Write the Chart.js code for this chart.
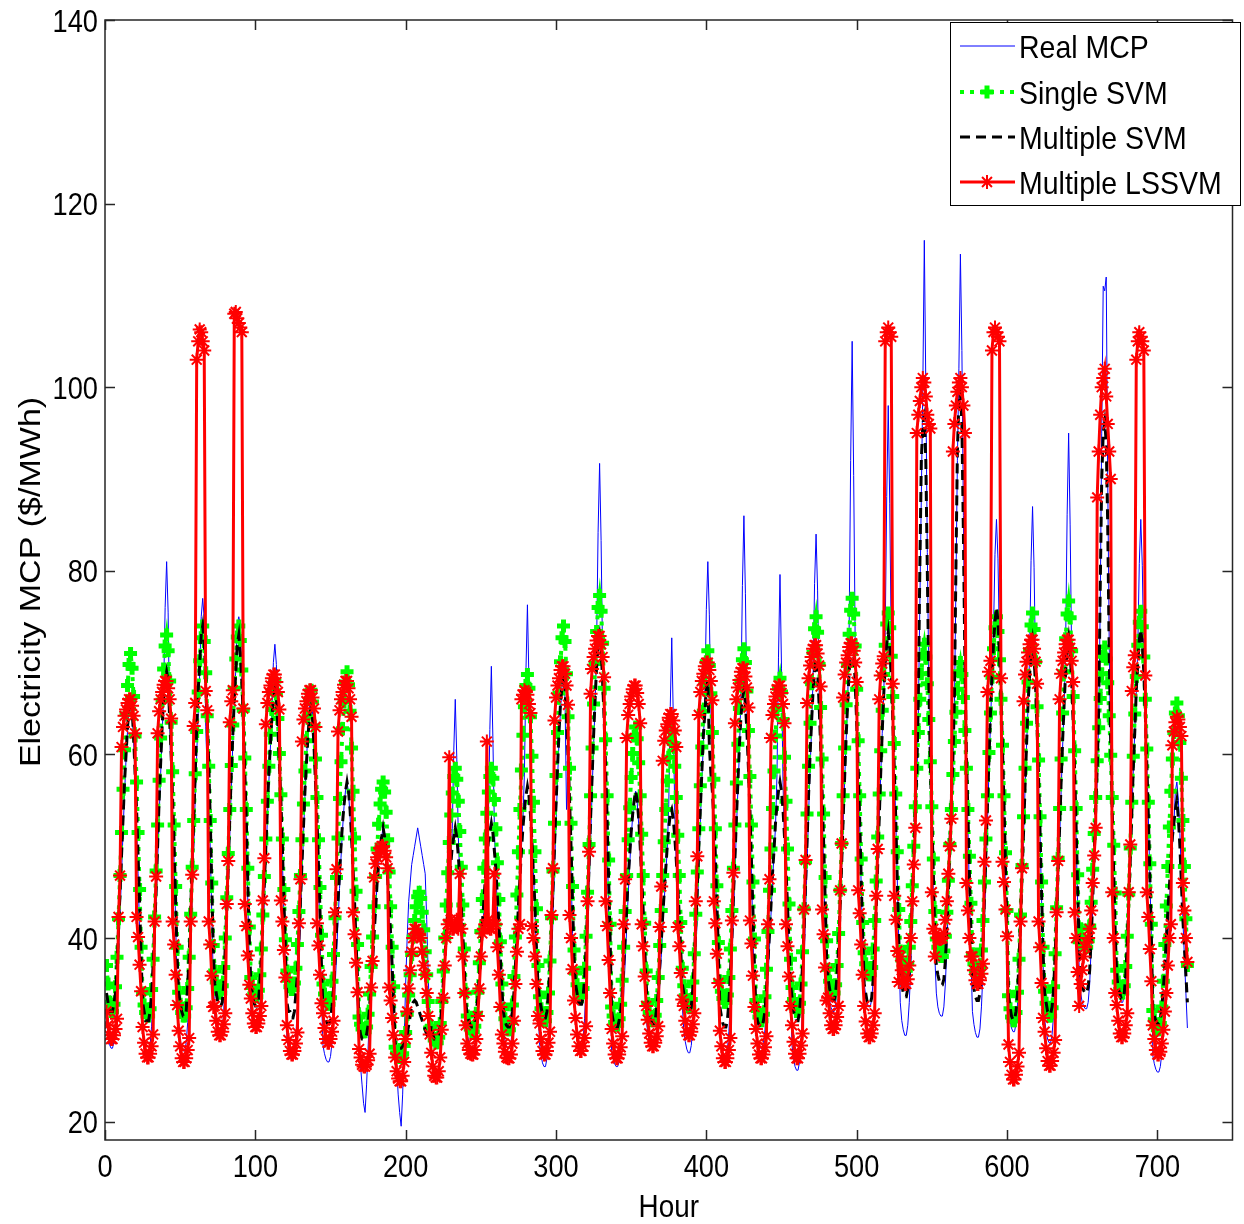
<!DOCTYPE html>
<html>
<head>
<meta charset="utf-8">
<title>Electricity MCP</title>
<script src="https://cdn.jsdelivr.net/npm/chart.js@4.4.1/dist/chart.umd.min.js"></script>
<style>
  html, body { margin: 0; padding: 0; background: #fff; }
  #mcp { display: block; }
</style>
</head>
<body>
<canvas id="mcp" width="1244" height="1224"></canvas>
<script>
// hourly values, one row per day (24 h), 30 days
var realMCP = [
  31,29.5,28.4,28,28,28.8,30.7,33.7,37.9,42.4,47,51.6,55.7,59.5,62.6,64.9,66,64.5,61.4,57.3,52.3,47,40.9,34.8,
  30,28.7,27.9,27.5,27.5,28.3,30.4,33.7,38.3,43.3,48.3,53.2,57.8,61.9,67,76,81,75.5,63,57,54,48.3,41.6,35,
  30.4,29,28.1,27.7,27.7,28.6,30.8,34.3,39.2,44.5,49.9,55.2,60,64.5,68.8,75,77,74.8,63,58,55,49.9,42.8,35.7,
  31.6,30.3,29.4,29,29,29.9,32.1,35.6,40.4,45.7,51,56.3,61.1,65.5,69.3,74.2,75,74.1,68,62.9,57.2,51,44,36.9,
  32.2,31.1,30.4,30,30,30.7,32.6,35.6,39.6,44.1,48.5,52.9,57,60.7,64.5,70,72,69.8,63.4,58.5,53.7,48.5,42.6,36.7,
  29.1,27.9,27.1,26.7,26.7,27.5,29.5,32.6,36.9,41.6,46.4,51.1,55.4,59.3,62.5,65.2,67,64.7,61.3,57,51.9,46.4,40.1,33.8,
  28.3,27.4,26.8,26.5,26.5,27.1,28.6,31.1,34.4,38.1,41.8,45.4,48.8,51.8,54.3,56.1,57,55.8,53.3,50,46,41.8,36.9,32,
  28,26,24,22,21,24,28,32,35,37.5,40.5,43,46,48,50,51,52,51,49,46,43,39,35,31,
  28,26,23,21,19.5,23,29,35,40,44,46,48,49,50,51,52,51,50,49,48,47,42,36,31,
  29.4,28.7,28.2,28,28,28.5,29.7,31.6,34.2,37.1,40,42.9,45.5,47.9,51.9,60.4,66,59.7,51.2,46.5,43.4,40,36.2,32.3,
  29.5,28.7,28.2,28,28,28.5,29.7,31.7,34.3,37.3,40.2,43.1,45.8,48.3,52.8,62.7,69.6,61.9,52.1,46.8,43.6,40.2,36.3,32.4,
  29.8,28.9,28.3,28,28,28.6,30.1,32.5,35.8,39.4,43,46.6,49.9,52.9,58,69,76.3,68,57.1,51.1,47.2,43,38.2,33.4,
  28.6,27.3,26.4,26,26,26.9,29,32.4,37.1,42.2,47.4,52.5,57.2,61.4,64.9,67.4,70,66,54,57,53.3,47.4,40.5,33.7,
  30.7,29.4,28.5,28,28,28.9,31.2,34.8,39.7,45.1,50.5,55.9,60.9,65.4,71.8,84.2,91.7,83.3,70.4,62.7,56.8,50.5,43.3,36.1,
  27.8,26.9,26.3,26,26,26.6,28.1,30.5,33.8,37.4,41,44.6,47.9,50.9,53.3,55.1,56,54.8,52.4,49.1,45.2,41,36.2,31.4,
  29.6,28.8,28.3,28,28,28.5,29.8,31.9,34.8,37.9,41,44.1,47,49.6,54.5,65.2,72.7,64.3,53.7,48,44.6,41,36.8,32.7,
  29.9,28.7,27.9,27.5,27.5,28.3,30.3,33.6,38,42.9,47.8,52.6,57.1,61.1,66.4,75.8,81,75.2,65.1,58.7,53.4,47.8,41.3,34.8,
  29.4,28.2,27.4,27,27,27.8,29.8,33,37.4,42.2,47,51.8,56.2,60.2,66.3,78.4,86,77.5,65.1,57.8,52.6,47,40.6,34.2,
  29.7,28.9,28.3,28,28,28.6,30,32.4,35.5,39,42.5,46,49.2,52.1,57.8,70.6,79.6,69.4,56.9,50.3,46.6,42.5,37.9,33.2,
  28.3,26.9,26,25.6,25.6,26.5,28.7,32.3,37.2,42.6,48,53.4,58.3,62.8,68.4,78.6,84,77.9,67,60.1,54.3,48,40.8,33.7,
  34.4,33.2,32.4,32,32,32.8,34.8,38.1,42.5,47.4,52.3,57.1,61.6,65.6,73.8,92,105,90.4,72.5,63.2,57.9,52.3,45.8,39.3,
  35,33.7,32.9,32.5,32.5,33.3,35.4,38.6,43.1,48,52.9,57.8,62.3,66.4,73.3,88.1,98,87.3,72.1,63.9,58.6,52.9,46.4,39.8,
  33,31,30,29.4,29.4,30.5,33,37,42,47,52,57,64,76,88,100,116,100,82,68,58,52,45,38,
  34,32.5,31.8,31.5,31.5,32.5,35,39,44,49,54,58.5,65,78,92,102,114.5,104,86,70,59,52,45,38,
  32,30.6,29.7,29.2,29.2,30.1,32.5,36.2,41.4,47,52.6,58.2,63.4,68,73.2,81.8,85.6,81.3,71.8,65.2,59.2,52.6,45.1,37.6,
  32.4,31.1,30.2,29.8,29.8,30.7,32.8,36.2,40.9,46,51.1,56.2,60.8,65.1,70.7,81.1,87,80.4,69.4,62.5,57,51.1,44.3,37.5,
  31.2,29.9,29,28.6,28.6,29.5,31.7,35.2,40.1,45.4,50.7,55.9,60.8,65.2,72,86.1,95,85,70.7,62.6,56.8,50.7,43.6,36.5,
  34,33,32.6,32.3,32.3,33,35,39,43,48,53,57,64,76,95,111,110.5,112,90,72,60,52,45,38,
  35.4,34.2,33.4,33,33,33.8,35.8,39.1,43.6,48.4,53.3,58.2,62.6,66.7,71.7,80.8,85.6,80.6,70.5,64.3,59,53.3,46.8,40.3,
  27.2,26.3,25.7,25.4,25.4,26,27.5,29.8,33.1,36.6,40.2,43.8,47,50,52.3,56,57,55,51.4,47,42,38,34,30.2
];

var singleSVM = [
  37,35,33,32,32,32.8,34.7,37.9,42.1,46.8,51.5,56.2,60.5,64.4,67.5,69.8,71,69.4,66.3,62,57,51.5,45.3,39,
  34,32.7,31.9,31.5,31.5,32.3,34.4,37.7,42.3,47.3,52.3,57.2,61.8,65.9,69.3,71.8,73,71.3,68,63.5,58.1,52.3,45.6,39,
  34.1,32.8,31.9,31.5,31.5,32.4,34.5,37.9,42.6,47.7,52.8,57.9,62.5,66.8,70.2,72.7,74,72.3,68.9,64.2,58.7,52.8,46,39.2,
  36.4,35.2,34.4,34,34,34.8,36.8,40,44.4,49.2,54,58.8,63.2,67.2,70.4,72.8,74,72.4,69.2,64.8,59.6,54,47.6,41.2,
  35.7,34.6,33.9,33.6,33.6,34.3,36,38.8,42.5,46.7,50.8,54.9,58.7,62.2,64.9,67,68,66.6,63.9,60.1,55.6,50.8,45.3,39.8,
  36.4,35.4,34.7,34.4,34.4,35.1,36.7,39.3,42.9,46.8,50.7,54.6,58.2,61.5,64.1,66,67,65.7,63.1,59.5,55.3,50.7,45.5,40.3,
  35,33.9,33.2,32.8,32.8,33.5,35.3,38.2,42.2,46.6,50.9,55.2,59.2,62.8,65.7,67.9,69,67.6,64.7,60.7,56,50.9,45.1,39.3,
  31.4,30.6,30.1,29.8,29.8,30.3,31.7,33.9,36.9,40.1,43.4,46.7,49.7,52.4,54.6,56.2,57,55.9,53.7,50.7,47.2,43.4,39,34.7,
  28.1,27.5,27.2,27,27,27.4,28.3,29.7,31.7,33.8,36,38.2,40.1,41.9,43.4,44.5,45,44.3,42.8,40.9,38.5,36,33.1,30.2,
  30.4,29.5,28.9,28.6,28.6,29.2,30.7,33.1,36.4,40,43.6,47.1,50.4,53.4,55.8,57.6,58.5,57.3,54.9,51.6,47.7,43.6,38.8,34,
  31.5,30.7,30.1,29.8,29.8,30.4,31.8,34.1,37.3,40.7,44.2,47.6,50.8,53.6,55.9,57.6,58.5,57.4,55.1,51.9,48.2,44.2,39.6,35,
  32.3,31.2,30.4,30,30,30.8,32.7,35.8,40.1,44.7,49.4,54,58.3,62.1,65.2,67.5,68.7,67.2,64.1,59.8,54.8,49.4,43.2,37,
  33.6,32.3,31.4,31,31,31.9,34,37.5,42.2,47.3,52.5,57.7,62.4,66.7,70.1,72.7,74,72.3,68.8,64.1,58.5,52.5,45.6,38.7,
  36.2,34.9,34,33.6,33.6,34.5,36.7,40.2,45,50.2,55.5,60.7,65.5,69.9,73.4,76,77.3,75.6,72.1,67.2,61.6,55.5,48.5,41.5,
  32.5,31.5,30.8,30.5,30.5,31.2,32.8,35.4,39,42.9,46.8,50.7,54.2,57.5,60.1,62,63,61.7,59.1,55.5,51.3,46.8,41.6,36.4,
  32.9,31.9,31.3,31,31,31.6,33.2,35.7,39.2,43,46.8,50.5,54,57.1,59.7,61.6,62.5,61.2,58.7,55.3,51.2,46.8,41.7,36.7,
  34.8,33.7,32.9,32.5,32.5,33.3,35.2,38.3,42.6,47.2,51.9,56.6,60.8,64.7,67.8,70.1,71.3,69.7,66.6,62.4,57.3,51.9,45.7,39.5,
  35.3,34.2,33.4,33,33,33.8,35.7,38.8,43,47.6,52.3,56.9,61.1,65,68,70.3,71.5,70,66.9,62.6,57.6,52.3,46.1,39.9,
  33.2,32.1,31.4,31,31,31.7,33.6,36.6,40.7,45.2,49.7,54.1,58.2,62,64.9,67.2,68.3,66.8,63.8,59.7,54.9,49.7,43.7,37.7,
  34.6,33.3,32.4,32,32,32.9,35,38.5,43.2,48.3,53.5,58.7,63.4,67.7,71.1,73.7,75,73.3,69.8,65.1,59.5,53.5,46.6,39.7,
  36.6,35.3,34.4,34,34,34.9,37,40.5,45.2,50.3,55.5,60.7,65.4,69.7,73.1,75.7,77,75.3,71.8,67.1,61.5,55.5,48.6,41.7,
  38.4,37.2,36.4,36,36,36.8,38.8,41.9,46.2,51,55.7,60.4,64.8,68.7,71.9,74.2,75.4,73.8,70.7,66.3,61.2,55.7,49.4,43.1,
  38.6,37.6,36.9,36.5,36.5,37.2,39,41.8,45.7,50,54.3,58.5,62.4,66,68.8,70.9,72,70.6,67.7,63.8,59.2,54.3,48.6,42.9,
  39.9,39,38.3,38,38,38.6,40.2,42.8,46.3,50.2,54,57.8,61.4,64.6,67.1,69,70,68.7,66.2,62.6,58.5,54,48.9,43.8,
  38.3,37.2,36.4,36,36,36.8,38.7,41.9,46.1,50.8,55.5,60.2,64.5,68.4,71.5,73.8,75,73.4,70.3,66,61,55.5,49.3,43,
  33.7,32.3,31.4,31,31,31.9,34.1,37.7,42.5,47.9,53.2,58.5,63.4,67.9,71.4,74.1,75.4,73.6,70.1,65.2,59.4,53.2,46.1,39,
  34.2,32.9,32,31.5,31.5,32.4,34.7,38.3,43.3,48.7,54.1,59.5,64.5,69,72.6,75.3,76.7,74.9,71.3,66.3,60.4,54.1,46.9,39.6,
  41,40,39.3,39,39,39.7,41.3,43.9,47.5,51.4,55.3,59.3,62.9,66.1,68.8,70.7,71.7,70.4,67.8,64.2,59.9,55.3,50.1,44.9,
  36.5,35.2,34.4,34,34,34.8,36.9,40.2,44.8,49.8,54.8,59.8,64.4,68.5,71.9,74.4,75.6,73.9,70.6,66,60.6,54.8,48.1,41.5,
  32.1,31.1,30.4,30,30,30.7,32.5,35.3,39.3,43.5,47.8,52.1,56,59.5,62.4,64.5,65.6,64.2,61.3,57.4,52.8,47.8,42.1,37
];

var multipleSVM = [
  34,33,32,32,32,33,34,37,41,45,49,53,57,60,63,65,66,65,62,58,54,49,44,38,
  33,32,31,31,31,32,34,37,41,45,50,55,59,63,66,68,69,68,64,60,55,50,44,38,
  34,33,32,31.5,31.5,32,35,38,43,48,53,58,63,67,70,73,74,72,69,64,59,53,46,39,
  35,34,33,32.6,32.6,33,35,39,43,48,53,58,62,66,69,72,73,71,68,64,58,53,46,40,
  35,34,33,32.6,32.6,33,35,38,42,46,50,54,58,61,64,66,67,66,63,59,55,50,44,39,
  33,32,32,31.3,31.3,32,34,36,40,44,48,52,56,59,62,64,65,64,61,57,53,48,43,37,
  32,31.5,31,30.7,30.7,31,32.5,34.5,37.5,41,44,47,50,52.5,54.5,56,57,56,54,51,47.5,44,39.5,35.5,
  30.5,29.5,29,29,29,29.5,30.5,32.5,35,37.5,40.5,43,46,48,50,51,52,51,49,46.5,43.5,40.5,37,33,
  28.5,28.2,28,28,28,28.2,28.5,29,29.5,30.5,31.5,32.5,33,33.2,33,32.5,32,31.5,31,30.5,30,29.5,29.2,29,
  30.5,29.5,29,29,29,29.5,30.5,32.5,35,37.5,40.5,43,46,48,50,51,52,51,49,46.5,43.5,40.5,37,33,
  31.5,31,30.5,30.3,30.3,30.7,32,33.5,36,38.5,41.5,44,46.5,48.5,50.5,51.5,52.5,51.5,49.5,47.5,44.5,41.5,38,34.5,
  32,31,30.5,30.3,30.3,31,32,34,37,40,43.5,46.5,49.5,52,54,55.5,56.5,55.5,53.5,50.5,47,43.5,39,35,
  33.5,32.5,31.7,31.3,31.3,32,34,37,41,45.5,50,54.5,58.5,62.5,65.5,67.5,68.7,67,64,60,55,50,44,38,
  35,34,33,32.8,32.8,33.5,35.5,39,43,48,53,57.5,62,66,69.5,72,73,71.5,68,64,58.5,53,46.5,40,
  32,31,30.5,30.3,30.3,31,32,34,37,40,43,46.5,49,51.5,53.5,55,56,55,53,50,46.5,43,39,35,
  32,31.5,31,30.7,30.7,31,32.5,34,37,39.5,42.5,45,47.5,50,52,53.5,54,53,51,48.5,45.5,42.5,38.5,35,
  34,33,32.3,31.9,31.9,32.5,34.5,37.5,41.5,45.5,50,54,58,62,64.5,67,68,61,58,56,53,49,44,38.5,
  32.5,31.5,30.7,30.3,30.3,31,33,36,40,44.5,48.5,53,57,61,64,66,67,65.5,62.5,58.5,54,48.5,43,37,
  32,31,30.5,30.3,30.3,31,32,34.5,37.5,40.5,43.5,47,49.5,52.5,54.5,56,57,56,54,51,47.5,43.5,39.5,35,
  33.5,32,31.5,31,31,32,34,37,41,46,50.5,55.5,60,63.5,67,69,70.4,69,65.5,61,56,50.5,44.5,38,
  35.5,34.5,33.5,33.2,33.2,34,36,39,43.5,48,53,57.5,62,65.5,69,71.3,72.5,71,68,63.5,58.5,53,46.5,40.5,
  35,34,33,32.8,32.8,33.5,35.5,39,43,48,53,58,62.5,66.5,70,72,73.3,71.5,68.5,64,58.5,53,46.5,40,
  36,35,34,33.6,33.6,34.5,36.5,40,44,49,54,58,66,80,92,96,96.8,92,80,68,59,53,47,40,
  37,36,35.3,34.9,34.9,35.5,37.5,41,45,50,55,59.5,66,80,93,98.5,99.5,96,84,70,60,53.5,47,41,
  36,34.5,33.6,33.2,33.2,34,36,39.5,44.5,49.5,54.5,59.5,64.5,68.5,72,74.5,76,74.5,71,66,60.5,54.5,48,41,
  33.5,32.5,31.5,31.1,31.1,32,34,37.5,42,47,51.5,56.5,61,65.5,68.5,71,72.3,70.5,67.5,63,57.5,51.5,45,38.5,
  34,33,32,31.7,31.7,32.5,34.5,38,42.5,47.5,52,57,61.5,65.5,69,71.5,72.7,71,68,63.5,58,52,45.5,39,
  36,35,34.3,34,34,34.7,36.5,40,44,49,54,58.5,65,78,90,95,96.2,94,85,71,61,54,47,40.5,
  36,34.5,34,33.4,33.4,34,36,39.5,44,48.5,53.5,58.5,62.5,67,70,72.5,73.6,72,69,64.5,59,53.5,47,40.5,
  32,31.5,31,30.7,30.7,31,32.5,34.5,37,40,43,45.5,48.5,51,52.5,54,55,53,50,46,42,39,36,33
];

var multipleLSSVM = [
  32,30.5,29.4,29,29,29.4,30.1,31.2,42.3,46.8,60.8,63,64.2,64.9,65.6,66,66,65.3,64.2,62.3,42.3,40.1,37.1,34.2,
  30.3,28.6,27.4,27,27,27.4,28.2,29.5,41.8,46.7,62.3,64.7,66,66.8,67.6,68,68,67.2,66,63.9,41.8,39.3,36,32.7,
  29.9,28.2,26.9,26.5,26.5,26.9,27.8,29.1,41.8,46.9,63.1,65.6,103,105,106.3,106,105,104,66.9,64.8,41.8,39.3,35.9,32.5,
  32.6,31,29.8,29.4,29.4,29.8,30.6,31.8,43.7,48.4,63.5,65.8,67,108,108.2,107.5,107,106.5,106,65,43.7,41.3,38.1,34.9,
  33.4,31.8,30.7,30.3,30.3,30.7,31.5,32.6,44.1,48.7,63.3,65.6,66.8,67.5,68.3,68.7,68.7,67.9,66.8,64.9,44.1,41.8,38.7,35.7,
  30.5,28.9,27.7,27.3,27.3,27.7,28.5,29.7,41.6,46.4,61.4,63.8,65,65.8,66.6,67,67,66.2,65,63,41.6,39.2,36,32.9,
  31.8,30.2,29,28.6,28.6,29,29.8,31,42.8,47.5,62.5,64.8,66,66.8,67.6,68,68,67.2,66,64.1,42.8,40.4,37.3,34.1,
  27.9,27,26.2,26,26,26.2,26.7,27.4,34.6,37.5,46.6,48.1,48.8,49.3,49.8,50,50,49.5,48.8,47.6,34.6,33.2,31.3,29.4,
  27,25.5,24.7,24.4,24.4,25,26.5,29,32,34.5,36.5,38.5,40,41,41,40.5,40.3,40,38.5,37,36,34,31.5,29.5,
  27.5,26,25,24.8,24.8,25.5,27,30,33.5,37,40,41.5,59.7,42,41,41,41.5,42,41,47,41,38,34,30.5,
  28.5,27.8,27.4,27.3,27.3,27.8,29,31.5,34.5,38,40.5,41,41.5,61.4,42,41,41,41.5,47,41.5,39,36,32.5,29.5,
  28.5,27.6,27,26.9,26.9,27.3,28.5,31,35,38.5,41,41.5,66,66.5,67,66.8,66.5,65.5,64.5,41.3,40,38,35,31.5,
  30.7,29,27.7,27.3,27.3,27.7,28.6,29.8,42.5,47.6,63.7,66.2,67.5,68.3,69.2,69.6,69.6,68.8,67.5,65.4,42.5,40,36.6,33.2,
  31.3,29.5,28.2,27.7,27.7,28.2,29.1,30.4,44,49.4,66.6,69.3,70.6,71.5,72.4,72.9,72.9,72,70.6,68.4,44,41.3,37.6,34,
  30.1,28.5,27.3,26.9,26.9,27.3,28.1,29.3,41.5,46.4,61.8,64.3,65.5,66.3,67.1,67.5,67.5,66.7,65.5,63.4,41.5,39.1,35.8,32.6,
  31.1,29.6,28.6,28.2,28.2,28.6,29.3,30.4,41.2,45.6,59.3,61.5,62.6,63.3,64,64.4,64.4,63.7,62.6,60.8,41.2,39.1,36.2,33.3,
  32.6,31,29.8,29.4,29.4,29.8,30.6,31.8,44,48.9,64.3,66.8,68,68.8,69.6,70,70,69.2,68,65.9,44,41.6,38.3,35.1,
  29.9,28.2,26.9,26.5,26.5,26.9,27.8,29.1,41.9,47.1,63.4,66,67.3,68.1,69,69.4,69.4,68.5,67.3,65.1,41.9,39.4,35.9,32.5,
  30.1,28.5,27.3,26.9,26.9,27.3,28.1,29.3,41.5,46.4,61.8,64.3,65.5,66.3,67.1,67.5,67.5,66.7,65.5,63.4,41.5,39.1,35.8,32.6,
  30.5,28.7,27.4,26.9,26.9,27.4,28.3,29.6,43.1,48.5,65.6,68.3,69.7,70.6,71.5,71.9,71.9,71,69.7,67.4,43.1,40.4,36.8,33.2,
  33.5,31.8,30.5,30.1,30.1,30.5,31.4,32.6,45.2,50.3,66.2,68.7,70,70.8,71.7,72.1,72.1,71.3,70,67.9,45.2,42.7,39.3,36,
  32.6,30.9,29.6,29.2,29.2,29.6,30.5,31.8,44.6,49.7,66,68.6,69.9,70.7,105,106,106.5,106,105.5,67.7,44.6,42,38.6,35.2,
  38,36.5,35.5,35,35,35.5,37,40,44,48,52,95,97,98.5,100,101,100.5,99,97,96,95.5,45,41,38,
  40.5,40,39.9,39.9,40,40.5,42,44,47,50,53,93,96,98,99.5,100.5,101,100,98,95,46,43,40,38,
  38,36.5,35.4,35,35,35.4,36.1,37.2,48.3,52.8,66.8,69,70.2,104,106,106.5,106,105.5,105,68.3,48.3,46.1,43.1,40.2,
  28.4,26.5,25.1,24.6,24.6,25.1,26,27.5,41.8,47.6,65.8,68.7,70.1,71.1,72,72.5,72.5,71.5,70.1,67.7,41.8,39,35.1,31.3,
  29.8,28,26.6,26.1,26.1,26.6,27.5,28.9,42.8,48.4,66,68.8,70.2,71.1,72,72.5,72.5,71.6,70.2,67.9,42.8,40,36.3,32.6,
  35,36.5,38,39,39.5,40,41,43,46,49,52,88,93,97,100,101,102,99,96,93,90,45,40,34,
  32.7,31,29.6,29.2,29.2,29.6,30.5,31.8,45,50.2,66.9,69.5,70.8,103,105,106,105.5,105,104,68.6,45,42.3,38.8,35.3,
  30.5,29,27.8,27.3,27.3,27.6,28.5,30,32,34,37,40,41.5,61,62.5,63.5,64.1,63.8,63,62,46,43,40,37.4
];

var xTicks = [0, 100, 200, 300, 400, 500, 600, 700];
var yTicks = [20, 40, 60, 80, 100, 120, 140];
var seriesNames = ["Real MCP", "Single SVM", "Multiple SVM", "Multiple LSSVM"];
var xTitle = "Hour";
var yTitle = "Electricity MCP ($/MWh)";

var FONT = '"Liberation Sans", Arial, Helvetica, sans-serif';

// hour index starts at 1
function toPoints(arr) {
    return arr.map(function(v, i) { return { x: i + 1, y: v }; });
}

var datasets = [
    {
        label: seriesNames[0],
        data: toPoints(realMCP),
        borderColor: "#0000ff",
        borderWidth: 1,
        pointRadius: 0,
        order: 4
    },
    {
        label: seriesNames[1],
        data: toPoints(singleSVM),
        borderColor: "#00ff00",
        backgroundColor: "#00ff00",
        borderWidth: 4,
        borderDash: [4, 6],
        pointStyle: "cross",
        pointRadius: 6.5,
        pointBorderWidth: 5,
        order: 3
    },
    {
        label: seriesNames[2],
        data: toPoints(multipleSVM),
        borderColor: "#000000",
        borderWidth: 3,
        borderDash: [10, 6],
        pointRadius: 0,
        order: 2
    },
    {
        label: seriesNames[3],
        data: toPoints(multipleLSSVM),
        borderColor: "#ff0000",
        backgroundColor: "#ff0000",
        borderWidth: 3,
        pointStyle: "star",
        pointRadius: 7,
        pointBorderWidth: 2,
        order: 1
    }
];

// squeezed text, the matlab export is narrower than the font
function squeezed(ctx, text, x, y, sx, align, rot) {
    ctx.save();
    ctx.translate(x, y);
    if (rot) ctx.rotate(rot);
    ctx.scale(rot ? 1 : sx, rot ? sx : 1);
    ctx.textAlign = align;
    ctx.textBaseline = "alphabetic";
    ctx.fillText(text, 0, 0);
    ctx.restore();
}

// matlab style box with inward ticks, labels, and the boxed legend
var axesBox = {
    id: "axesBox",
    afterDatasetsDraw: function(chart) {
        var ctx = chart.ctx, a = chart.chartArea;
        var xs = chart.scales.x, ys = chart.scales.y;
        ctx.save();
        ctx.strokeStyle = "#262626";
        ctx.lineWidth = 1.5;
        ctx.strokeRect(a.left, a.top, a.right - a.left, a.bottom - a.top);
        ctx.beginPath();
        xTicks.forEach(function(v) {
            var px = Math.round(xs.getPixelForValue(v)) + 0.5;
            ctx.moveTo(px, a.bottom); ctx.lineTo(px, a.bottom - 10);
            ctx.moveTo(px, a.top); ctx.lineTo(px, a.top + 10);
        });
        yTicks.forEach(function(v) {
            var py = Math.round(ys.getPixelForValue(v)) + 0.5;
            ctx.moveTo(a.left, py); ctx.lineTo(a.left + 10, py);
            ctx.moveTo(a.right, py); ctx.lineTo(a.right - 10, py);
        });
        ctx.stroke();

        ctx.fillStyle = "#000";
        ctx.font = "32px " + FONT;
        xTicks.forEach(function(v) {
            squeezed(ctx, String(v), xs.getPixelForValue(v), a.bottom + 37, 0.85, "center");
        });
        yTicks.forEach(function(v) {
            squeezed(ctx, String(v), a.left - 7, ys.getPixelForValue(v) + 11.5, 0.85, "right");
        });
        squeezed(ctx, xTitle, (a.left + a.right) / 2, 1217, 0.87, "center");
        ctx.font = "34px " + FONT;
        squeezed(ctx, yTitle, 40, (a.top + a.bottom) / 2 + 2, 0.88, "center", -Math.PI / 2);
        ctx.restore();
    },
    afterDraw: function(chart) {
        var ctx = chart.ctx;
        var bx = 950, by = 22, bw = 290, bh = 183;
        ctx.save();
        ctx.fillStyle = "#fff";
        ctx.fillRect(bx, by, bw, bh);
        ctx.strokeStyle = "#000";
        ctx.lineWidth = 1;
        ctx.strokeRect(bx + 0.5, by + 0.5, bw, bh);
        var rows = [46, 92, 137, 182];
        chart.data.datasets.forEach(function(ds, i) {
            var y = rows[i];
            ctx.save();
            ctx.strokeStyle = ds.borderColor;
            ctx.lineWidth = ds.borderWidth;
            ctx.setLineDash(ds.borderDash || []);
            ctx.beginPath();
            ctx.moveTo(960, y); ctx.lineTo(1015, y);
            ctx.stroke();
            ctx.restore();
            if (ds.pointRadius) {
                ctx.save();
                ctx.strokeStyle = ds.borderColor;
                ctx.fillStyle = ds.borderColor;
                ctx.lineWidth = ds.pointBorderWidth;
                Chart.helpers.drawPoint(ctx, {
                    pointStyle: ds.pointStyle, radius: ds.pointRadius,
                    borderWidth: ds.pointBorderWidth, rotation: 0
                }, 987, y);
                ctx.restore();
            }
            ctx.fillStyle = "#000";
            ctx.font = "32px " + FONT;
            squeezed(ctx, ds.label, 1019, y + 12, 0.89, "left");
        });
        ctx.restore();
    }
};

new Chart(document.getElementById("mcp"), {
    type: "line",
    data: { datasets: datasets },
    options: {
        responsive: false,
        animation: false,
        devicePixelRatio: 1,
        layout: { padding: { top: 20, right: 4, left: 0, bottom: 0 } },
        elements: { line: { tension: 0 } },
        plugins: {
            legend: { display: false },
            tooltip: { enabled: false }
        },
        scales: {
            x: {
                type: "linear",
                min: 0,
                max: 750,
                afterBuildTicks: function(s) { s.ticks = xTicks.map(function(v) { return { value: v }; }); },
                afterFit: function(s) { s.height = 84; },
                grid: { display: false },
                border: { display: false },
                ticks: { display: false }
            },
            y: {
                type: "linear",
                min: 18,
                max: 140,
                afterBuildTicks: function(s) { s.ticks = yTicks.map(function(v) { return { value: v }; }); },
                afterFit: function(s) { s.width = 105; },
                grid: { display: false },
                border: { display: false },
                ticks: { display: false }
            }
        }
    },
    plugins: [axesBox]
});
</script>
</body>
</html>
